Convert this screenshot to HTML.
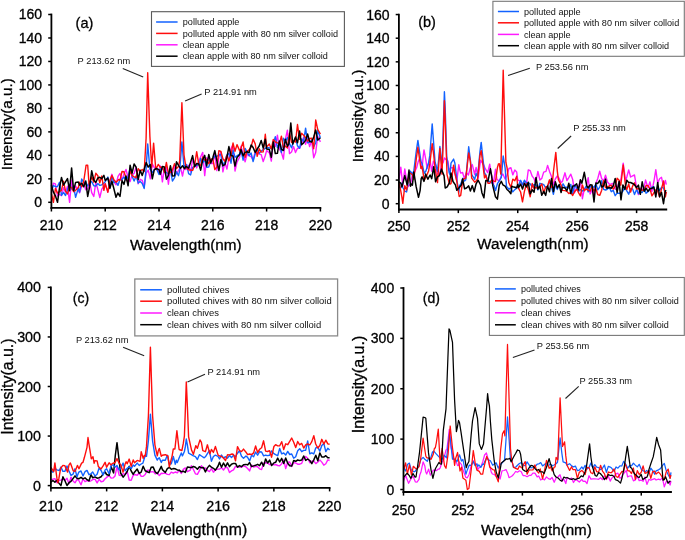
<!DOCTYPE html><html><head><meta charset="utf-8"><style>html,body{margin:0;padding:0;background:#fff;width:685px;height:540px;overflow:hidden}svg{display:block;filter:blur(0.35px)}text{font-family:"Liberation Sans",sans-serif}</style></head><body><svg width="685" height="540" viewBox="0 0 685 540" font-family="Liberation Sans, sans-serif">
<rect width="685" height="540" fill="#fff"/>
<g>
<polyline points="51.4,192.9 53.4,183.2 55.4,183.9 57.5,196.0 59.5,194.3 61.5,195.7 63.5,187.8 65.5,192.1 67.5,186.2 69.6,202.3 71.6,180.1 73.6,191.7 75.6,186.0 78.3,190.7 79.6,192.8 81.7,186.3 83.7,183.1 85.7,189.7 87.7,188.8 89.7,182.2 91.7,192.6 93.8,196.5 95.8,182.4 97.8,189.3 99.8,197.5 101.8,189.1 103.9,186.1 105.2,183.6 107.9,192.2 109.9,180.9 111.9,174.3 113.9,181.7 116.0,184.8 118.0,176.3 120.0,173.4 122.0,180.1 124.0,173.6 126.0,169.5 128.1,177.8 130.1,181.6 132.1,174.9 134.1,173.4 136.1,167.2 138.2,183.8 140.2,179.3 142.2,180.3 144.2,186.5 146.2,173.2 148.2,170.2 150.3,178.9 152.3,163.8 154.3,167.6 156.3,168.8 159.0,172.5 160.3,166.0 162.4,181.9 164.4,167.9 166.4,167.7 168.4,184.2 170.4,169.0 172.4,173.0 174.5,165.4 176.5,173.8 178.5,170.5 180.5,167.7 182.5,176.0 184.6,165.4 185.9,169.5 188.6,165.3 190.6,171.9 192.6,160.0 194.6,162.9 196.7,167.9 198.7,161.6 200.7,156.7 202.7,152.4 204.7,175.6 206.7,157.8 208.8,160.2 210.8,163.6 212.8,163.5 214.8,153.2 216.8,170.6 218.9,157.3 220.9,151.8 222.9,171.9 224.9,162.4 226.9,169.1 228.9,157.9 231.0,148.6 233.0,144.6 235.0,171.0 237.0,162.2 239.7,157.0 241.0,146.3 243.1,154.0 245.1,161.8 247.1,154.0 249.1,155.8 251.1,156.6 253.1,159.9 255.2,151.6 257.2,151.7 259.2,154.1 261.2,154.6 263.2,161.6 265.3,155.5 266.6,150.6 269.3,152.7 271.3,161.1 273.3,141.3 275.3,146.6 277.4,135.1 279.4,149.2 281.4,152.5 283.4,159.1 285.4,139.2 287.4,130.1 289.5,153.6 291.5,152.0 293.5,146.5 295.5,152.5 297.5,148.2 299.6,148.3 301.6,144.0 303.6,137.2 305.6,144.3 307.6,137.6 309.6,146.6 311.7,140.9 313.7,157.8 315.7,152.5 317.7,136.2 320.4,141.9" fill="none" stroke="#ff1aff" stroke-width="1.4" stroke-linejoin="round"/>
<polyline points="51.4,190.6 53.4,185.5 55.4,186.7 57.5,186.6 59.5,182.3 61.5,195.3 63.5,192.4 65.5,195.5 67.5,189.7 69.6,184.3 71.6,188.9 73.6,186.3 75.6,197.4 78.3,188.1 79.6,192.1 81.7,179.0 83.7,182.6 85.7,181.8 87.7,186.0 89.7,182.3 91.7,181.6 93.8,185.8 95.8,186.0 97.8,183.6 99.8,185.4 101.8,184.8 103.9,182.9 105.2,181.7 107.9,177.1 109.9,187.8 111.9,176.1 113.9,182.6 116.0,181.9 118.0,185.3 120.0,179.3 122.0,179.4 124.0,177.0 126.0,180.0 128.1,176.7 130.1,168.3 132.1,176.2 134.1,181.1 136.1,175.9 138.2,183.0 140.2,181.5 142.2,183.4 144.2,188.5 146.1,168.4 147.7,143.9 149.9,169.0 152.3,172.5 154.3,169.7 156.3,168.2 159.0,174.5 160.3,169.1 162.4,168.3 164.4,171.9 166.4,172.5 168.4,173.9 170.4,169.5 172.4,181.0 174.5,177.9 176.5,171.8 178.5,175.7 179.7,170.5 181.9,141.9 184.0,166.8 186.6,164.5 188.6,173.6 190.6,174.9 192.6,167.3 194.6,166.3 196.7,165.4 199.3,164.3 200.7,158.5 202.7,162.5 204.7,160.0 206.7,167.3 208.8,167.0 210.8,159.6 212.8,159.6 214.8,156.2 216.8,156.4 218.9,155.0 220.9,154.5 222.9,166.1 224.9,160.9 226.9,154.8 228.9,153.7 231.0,163.2 233.0,150.1 235.0,157.3 237.0,155.9 239.7,154.0 241.0,150.4 243.1,160.2 245.1,148.4 247.1,152.2 249.1,155.7 251.1,153.0 253.1,161.5 255.2,153.8 257.2,149.5 259.2,153.3 261.2,151.0 263.2,149.7 265.3,148.4 266.6,147.6 269.3,147.8 271.3,148.5 273.3,144.3 275.3,136.7 277.4,147.6 279.4,143.1 281.4,152.5 283.4,138.3 285.4,141.1 287.4,137.5 289.5,143.6 291.5,147.8 293.5,141.8 295.5,138.5 297.5,145.8 299.6,148.3 301.6,138.9 303.6,141.5 305.6,128.1 307.6,142.9 309.6,142.1 311.7,139.8 313.7,146.7 315.7,142.7 317.7,130.5 320.4,137.8" fill="none" stroke="#1262ff" stroke-width="1.4" stroke-linejoin="round"/>
<polyline points="51.4,193.6 53.4,202.3 55.4,188.5 57.5,193.1 59.5,191.7 61.5,190.1 63.5,181.2 65.5,191.2 67.5,193.9 69.6,187.0 71.6,187.4 73.6,191.5 75.6,190.3 78.3,187.6 79.6,182.3 81.7,186.7 83.7,181.5 86.1,165.2 87.7,165.2 89.1,184.9 91.7,176.8 93.8,182.2 95.8,173.3 97.8,175.7 99.8,182.8 101.8,176.0 103.9,190.3 105.2,183.6 107.9,192.2 109.9,180.6 111.9,175.5 113.9,179.6 116.0,182.2 118.7,179.5 120.0,180.4 122.0,171.5 124.0,171.7 126.0,177.8 128.1,182.9 130.1,170.9 132.1,175.4 134.1,176.9 136.1,177.7 138.2,168.6 140.2,171.2 142.2,169.5 144.2,171.5 146.1,138.3 147.7,72.7 149.9,136.5 151.7,167.1 153.6,143.1 155.8,169.5 158.3,164.4 160.3,167.4 162.4,167.0 164.4,172.6 166.4,162.5 168.4,173.3 170.4,172.3 172.4,170.0 174.5,163.6 176.5,168.5 178.5,166.4 179.7,160.6 181.9,102.7 184.0,154.8 185.9,167.1 188.6,169.7 190.6,170.0 192.6,170.4 194.6,165.2 196.7,151.7 198.7,163.8 200.7,165.8 202.7,157.0 204.7,160.2 206.7,159.5 208.8,163.8 210.8,159.3 212.8,158.5 214.8,169.5 216.8,167.1 218.9,150.7 220.9,151.5 222.9,158.8 224.9,161.2 226.9,155.6 228.9,160.9 231.0,155.3 233.0,143.0 235.0,151.3 237.0,144.6 239.7,150.9 241.0,148.3 243.1,141.9 245.1,157.6 247.1,151.4 249.1,149.9 251.1,147.0 253.1,139.2 255.2,143.9 257.2,156.4 259.2,148.8 261.2,152.1 263.2,151.9 265.3,134.3 266.6,146.9 269.3,144.0 271.3,149.1 273.3,139.4 275.3,142.0 277.4,142.9 279.4,143.6 281.4,136.1 283.4,147.8 285.4,146.1 287.4,148.0 289.5,133.1 291.5,142.3 293.5,141.0 295.5,142.1 297.5,124.5 299.6,139.4 301.6,133.3 303.6,135.2 305.6,137.5 307.6,141.1 309.6,138.5 311.7,138.2 313.7,148.7 315.7,120.0 317.7,129.4 320.4,134.1" fill="none" stroke="#ff0d0d" stroke-width="1.4" stroke-linejoin="round"/>
<polyline points="51.4,185.2 53.4,192.1 55.4,195.8 57.5,202.3 59.5,187.8 61.5,177.4 63.5,185.1 65.5,181.9 67.5,178.6 69.6,190.8 71.6,167.9 73.6,190.6 75.6,182.4 78.3,182.0 79.6,185.1 81.7,183.2 83.7,186.8 85.7,180.9 87.7,196.4 89.7,186.4 91.7,170.8 93.8,180.0 95.8,182.4 97.8,178.0 99.8,177.3 101.8,178.6 103.9,175.4 105.2,180.4 107.9,178.0 109.9,188.4 111.9,181.2 113.9,188.7 116.0,197.3 117.8,193.0 120.0,196.4 122.0,180.5 124.0,184.4 126.0,175.9 128.1,185.8 130.1,165.3 132.1,173.2 134.1,164.0 136.1,167.1 138.2,179.5 140.2,170.2 142.2,175.6 144.2,169.3 146.2,162.5 148.2,167.1 150.3,164.5 152.3,178.8 154.3,169.7 156.3,168.5 159.0,169.6 160.3,174.4 162.4,166.4 164.4,166.9 166.4,179.2 168.4,175.7 170.4,165.7 172.4,175.9 174.5,175.8 176.5,161.8 178.5,165.4 180.5,168.4 182.5,165.8 184.6,168.8 185.9,166.4 188.6,168.2 190.6,162.2 192.6,155.6 194.6,166.7 196.7,163.5 198.7,164.0 200.7,170.2 202.7,159.9 204.7,155.4 206.7,165.9 208.8,154.5 210.8,163.1 212.8,157.8 214.8,150.6 216.8,160.5 218.9,170.5 220.9,159.4 222.9,165.7 224.9,164.7 226.9,157.4 228.9,146.6 231.0,155.5 233.0,155.9 235.0,166.0 237.0,157.5 239.7,154.4 241.0,149.4 243.1,155.8 245.1,152.3 247.1,151.8 249.1,152.6 251.1,144.9 253.1,147.5 255.2,152.4 257.2,149.0 259.2,146.0 261.2,140.4 263.2,148.1 265.3,139.2 266.6,148.9 269.3,149.4 271.3,157.2 273.3,141.9 275.3,153.6 277.4,153.3 279.4,140.9 281.4,149.4 283.4,150.5 285.4,139.2 287.4,146.2 288.9,143.9 290.8,122.9 292.7,144.1 295.5,137.0 297.5,142.8 299.6,131.1 301.6,144.7 303.6,142.9 305.6,140.4 307.6,133.9 309.6,141.6 311.7,142.0 313.7,136.9 315.7,129.9 317.7,140.1 320.4,137.8" fill="none" stroke="#000000" stroke-width="1.5" stroke-linejoin="round"/>
<polyline points="398.9,179.7 400.8,167.2 402.8,185.5 404.8,169.0 406.6,180.1 407.8,186.7 410.5,184.1 412.3,175.2 414.3,172.8 416.7,167.4 418.2,161.6 420.1,157.6 422.1,169.1 423.0,157.9 424.0,149.9 425.9,160.2 427.1,168.5 429.8,159.2 431.7,171.2 433.4,161.1 435.6,164.6 437.5,173.9 439.5,175.1 441.4,165.4 443.3,162.1 444.4,157.9 445.2,158.9 447.9,160.8 449.1,169.7 450.9,167.8 453.0,167.7 455.4,175.0 456.8,180.6 458.8,164.8 459.8,170.1 460.7,173.1 462.6,172.5 464.3,178.4 466.5,172.6 468.4,175.0 470.2,168.1 472.3,164.6 474.7,174.5 476.1,167.4 478.1,178.2 479.1,170.9 480.6,160.1 481.9,162.3 483.9,165.2 485.1,168.4 487.7,172.6 489.7,164.1 491.0,172.8 493.5,183.6 495.5,169.2 496.9,179.4 499.3,181.0 501.3,176.2 502.9,174.0 505.1,179.0 507.0,175.2 509.0,168.3 510.9,167.7 512.8,174.9 514.8,170.1 516.7,172.0 517.7,180.1 518.6,180.3 520.6,181.3 522.5,184.9 523.7,182.9 526.4,184.3 528.3,169.9 530.2,170.7 532.2,176.2 534.1,178.7 535.6,183.1 537.9,171.4 539.9,180.0 541.8,178.4 543.7,172.1 546.0,171.4 547.6,165.4 549.5,171.4 551.5,176.6 553.4,184.9 555.3,179.0 557.3,175.9 559.2,178.5 561.1,182.5 562.3,181.7 565.0,172.8 566.9,180.5 568.3,178.5 570.8,174.2 572.7,179.6 574.6,192.8 577.2,186.1 578.5,187.8 580.4,179.8 582.4,198.7 584.3,189.0 586.2,187.6 588.2,177.6 590.1,194.0 592.0,190.0 594.0,195.0 595.9,183.1 597.8,178.4 599.7,171.3 601.7,178.8 603.9,180.8 605.5,175.2 607.5,182.0 609.4,184.3 611.3,183.9 612.8,183.5 615.2,189.2 617.1,188.9 619.1,181.5 620.8,180.1 623.2,163.1 625.6,180.9 626.8,177.0 628.7,169.9 630.6,177.0 632.6,175.9 634.5,175.0 636.6,187.9 638.4,194.6 640.3,188.1 642.2,190.0 644.2,187.4 645.5,180.0 648.0,187.7 650.0,181.8 651.9,191.6 654.4,178.6 655.8,169.7 657.7,183.2 659.6,178.7 661.5,177.3 663.5,186.3 665.4,180.5 666.3,184.6" fill="none" stroke="#ff1aff" stroke-width="1.4" stroke-linejoin="round"/>
<polyline points="398.9,186.7 400.8,187.9 401.9,183.1 402.8,187.5 404.8,191.1 406.6,191.9 409.3,177.2 410.5,171.3 412.4,174.0 413.8,171.0 416.3,151.0 417.9,140.4 420.9,161.2 422.1,163.5 424.2,173.3 425.9,171.0 428.6,162.8 429.8,155.4 432.2,123.9 433.7,144.1 435.1,162.2 437.5,171.3 439.9,146.5 442.0,168.3 443.3,127.3 444.4,91.8 445.2,108.6 446.7,156.3 449.1,172.5 450.0,174.7 451.0,163.1 453.6,159.1 454.9,163.3 456.8,179.3 458.8,192.1 459.8,185.2 460.7,184.2 462.8,178.3 464.6,181.0 465.8,179.8 468.7,146.8 470.4,160.4 471.7,174.5 474.7,179.4 476.1,173.5 477.6,176.7 480.0,151.3 481.2,142.4 484.5,173.0 485.8,174.8 488.0,182.0 489.7,181.3 491.6,182.6 494.0,185.5 495.5,190.6 497.4,183.7 499.9,179.8 501.3,177.4 503.2,156.0 505.1,167.8 506.5,186.5 509.0,189.3 510.9,187.6 511.8,189.8 512.8,191.9 514.8,189.6 516.7,188.1 517.7,186.3 518.6,185.3 520.6,180.3 522.5,184.7 524.4,180.2 526.4,183.3 528.3,183.0 530.2,183.9 532.2,187.0 534.1,184.5 536.0,184.9 537.9,189.9 539.9,183.3 541.8,183.9 543.7,184.7 545.7,187.9 547.5,187.4 549.5,181.0 551.5,186.7 553.4,194.4 555.3,184.6 557.3,189.6 559.2,184.9 561.1,188.0 563.1,183.8 565.0,187.2 566.9,187.3 568.8,188.0 570.8,184.4 572.7,193.6 574.6,185.0 577.2,189.1 578.5,191.5 580.4,189.5 582.4,191.1 584.3,189.3 586.2,186.2 588.2,191.9 590.1,186.9 592.0,186.2 594.0,187.3 595.9,184.0 597.8,189.8 599.7,187.1 601.7,180.7 603.6,189.4 605.5,190.0 606.9,189.5 609.4,187.4 611.3,191.7 613.3,190.4 615.2,195.7 617.1,193.2 619.1,193.1 621.0,193.6 622.9,191.1 624.9,187.1 626.8,190.9 628.7,194.2 630.6,188.7 632.6,188.9 634.5,194.5 636.6,189.4 638.4,193.5 640.3,192.1 642.2,192.6 644.2,187.2 646.1,193.2 648.0,191.6 650.0,189.9 651.9,187.1 653.8,186.7 655.8,194.7 657.7,187.0 659.6,190.3 661.5,187.3 663.5,187.9 665.4,193.7 666.3,191.9" fill="none" stroke="#1262ff" stroke-width="1.4" stroke-linejoin="round"/>
<polyline points="398.9,182.1 400.8,191.1 401.9,197.2 402.8,203.4 404.8,185.7 406.6,190.0 409.3,173.6 410.5,173.2 412.4,174.8 413.8,179.5 416.3,158.7 417.9,147.3 420.9,168.4 422.1,166.3 424.2,180.4 425.9,177.2 428.6,171.0 429.8,163.7 432.2,143.6 433.7,154.8 435.1,168.4 437.5,182.6 439.9,148.5 442.0,174.1 443.3,138.5 444.4,100.8 445.2,119.9 447.0,174.6 449.1,182.6 450.0,184.2 451.0,183.7 453.6,165.1 454.9,173.4 456.8,181.3 459.2,196.5 460.7,195.4 462.8,179.7 464.6,178.6 465.8,178.1 468.7,152.9 470.4,161.7 471.7,178.2 474.7,182.2 476.1,180.9 477.6,178.9 480.0,155.1 481.2,150.6 484.5,177.9 485.8,175.2 488.0,183.2 489.7,183.4 491.6,180.1 494.0,181.1 495.5,181.5 496.4,175.2 497.4,167.6 498.4,163.9 499.3,163.7 500.8,174.1 503.2,70.2 505.9,162.4 507.0,167.3 508.8,182.5 510.9,187.3 512.8,179.1 514.8,180.7 516.7,176.2 517.7,186.1 518.6,188.4 520.6,192.0 522.5,201.9 524.4,191.4 526.4,184.0 528.3,189.6 530.2,196.7 532.2,183.5 534.1,188.4 536.0,187.5 537.9,187.8 539.9,186.5 541.8,184.0 543.7,193.1 545.7,186.9 547.5,186.3 549.5,179.8 551.5,187.4 552.5,181.4 553.4,172.0 555.8,152.4 557.3,171.1 558.4,179.6 561.1,185.1 562.3,190.4 565.0,190.6 566.9,191.4 568.8,193.5 570.8,192.7 572.7,195.5 574.6,191.4 577.2,189.3 578.5,192.7 580.4,195.9 582.4,185.0 584.3,190.8 586.2,189.0 588.2,190.0 590.1,191.2 592.0,186.4 594.0,191.0 595.9,188.7 597.8,194.7 599.7,195.4 601.7,190.2 603.6,180.6 605.5,187.6 606.9,187.1 609.4,185.8 611.3,185.3 613.3,189.1 615.2,186.3 617.1,178.3 619.1,180.3 620.8,185.2 623.2,165.0 625.6,186.3 626.8,189.5 628.7,184.0 630.6,192.0 632.6,186.1 634.5,182.8 636.6,189.0 638.4,188.6 640.3,189.2 642.2,190.3 644.2,190.2 646.1,185.4 648.0,185.6 650.0,188.9 651.9,195.9 653.8,193.0 655.8,189.8 657.7,191.0 659.6,196.9 661.5,188.8 663.5,180.9 665.4,196.9 666.3,191.8" fill="none" stroke="#ff0d0d" stroke-width="1.4" stroke-linejoin="round"/>
<polyline points="398.9,181.8 400.8,183.1 401.9,186.9 402.8,183.8 404.8,175.6 407.2,185.0 409.0,170.1 410.5,186.3 411.4,184.0 412.4,185.1 413.8,171.9 416.1,186.4 418.5,197.3 420.1,190.6 421.2,178.6 422.1,176.9 424.0,181.4 425.6,174.1 427.9,179.2 430.1,175.0 431.7,178.7 433.7,166.7 435.6,181.8 437.5,176.8 439.5,175.5 441.4,169.1 444.1,175.9 445.2,188.0 447.2,186.8 449.4,182.6 451.0,172.9 453.0,181.5 455.4,184.9 456.8,190.3 458.8,188.1 461.3,185.1 462.6,179.0 464.6,188.8 466.5,188.0 468.7,185.9 470.4,191.0 472.3,185.6 474.2,191.7 476.1,183.8 478.1,180.2 480.6,185.0 481.9,192.7 483.9,197.8 485.8,180.6 488.0,181.1 490.4,168.8 491.6,175.7 492.8,185.9 495.5,196.8 497.4,199.1 499.3,184.8 501.3,181.4 502.9,184.8 505.1,186.2 507.0,189.5 509.0,191.2 510.9,193.7 511.8,186.2 512.8,186.7 514.8,187.2 516.7,187.8 517.7,184.5 518.6,187.6 520.6,184.1 522.5,189.1 524.4,183.3 526.4,186.9 528.3,182.3 530.2,193.8 532.2,189.8 534.1,192.2 536.0,177.4 537.9,189.1 539.9,186.3 541.8,195.3 543.7,191.3 545.7,195.4 547.5,186.1 549.5,191.8 551.5,178.6 553.4,191.6 555.3,181.8 557.3,188.0 559.2,184.7 561.1,192.5 562.3,187.3 565.0,187.9 566.9,190.8 568.8,183.2 570.8,193.6 572.7,186.1 574.6,185.8 576.6,183.8 578.5,189.9 580.4,179.8 581.9,183.2 584.3,172.3 586.7,185.6 588.2,188.0 590.1,184.8 592.0,184.9 594.0,201.9 595.9,183.1 597.8,183.4 599.7,180.4 601.7,187.0 603.6,186.0 605.5,179.1 606.9,188.3 609.4,187.5 611.3,188.3 613.3,185.8 615.2,178.5 617.1,192.5 619.1,181.4 621.0,199.8 622.9,184.9 624.9,189.4 626.8,180.2 628.7,182.6 630.6,182.5 632.6,183.5 634.5,184.7 636.6,187.6 638.4,185.1 640.3,194.3 642.2,181.8 644.2,191.4 646.1,188.2 648.0,191.3 650.0,188.6 651.9,188.4 653.8,187.1 655.8,196.9 657.7,182.4 659.6,196.8 661.5,192.4 663.5,203.7 665.4,190.7 666.3,191.2" fill="none" stroke="#000000" stroke-width="1.5" stroke-linejoin="round"/>
<polyline points="50.9,479.8 52.9,479.2 54.9,478.6 56.9,482.8 59.3,480.4 60.9,480.1 62.9,479.0 64.9,480.4 67.0,478.3 69.0,483.7 71.0,477.1 73.2,481.2 75.0,482.8 77.0,479.3 78.8,480.5 81.0,484.8 83.0,478.9 85.0,481.7 87.0,480.7 89.0,481.4 91.0,480.8 92.7,479.6 95.0,479.1 97.1,482.9 99.1,479.4 101.1,481.8 103.1,481.3 105.1,478.8 106.6,477.4 109.1,475.5 111.1,478.1 113.1,477.9 115.0,476.0 117.0,466.7 119.2,475.3 121.1,475.5 123.1,473.7 125.1,474.5 127.2,471.4 129.2,480.0 131.2,480.2 133.2,475.3 134.5,474.5 137.2,475.2 139.2,472.8 141.2,476.4 143.2,476.2 145.2,474.5 147.2,470.2 149.2,470.2 150.4,472.0 153.2,471.6 155.2,473.9 157.3,472.5 159.3,475.6 161.3,473.2 162.4,473.5 165.3,473.1 167.3,474.4 169.3,474.6 171.3,472.1 173.3,473.1 175.3,472.0 177.3,472.9 179.3,470.2 181.3,473.5 183.3,469.4 185.3,467.9 187.4,471.7 190.3,470.1 191.4,465.6 193.4,469.5 195.4,473.8 197.4,474.4 199.4,470.7 201.4,465.7 203.4,468.6 205.4,468.0 207.4,470.4 209.4,471.6 211.4,468.7 213.4,472.2 215.4,469.9 218.1,469.1 219.5,469.1 221.5,467.7 223.5,470.0 225.5,467.2 227.5,467.6 229.5,472.5 231.5,470.9 233.5,469.9 235.5,466.4 237.5,467.1 239.5,467.0 241.5,467.2 243.5,465.9 246.0,466.9 247.6,468.5 249.6,470.9 251.6,465.1 253.6,467.1 255.6,466.3 257.6,466.7 259.6,468.8 261.6,469.6 263.6,463.3 265.6,462.8 267.6,463.0 269.6,464.6 271.6,464.3 273.9,464.9 275.6,464.5 277.7,465.5 279.7,465.7 281.7,463.7 283.7,459.9 285.7,468.6 287.7,462.3 289.7,462.0 291.7,466.5 293.7,462.6 295.7,463.0 297.7,464.2 299.7,464.2 301.7,463.3 303.7,458.4 305.7,456.6 307.7,458.3 309.8,462.8 311.8,461.2 313.8,460.8 315.8,463.6 317.8,462.0 319.8,459.9 321.8,462.1 323.8,465.2 325.8,463.8 327.8,459.9 329.6,460.5" fill="none" stroke="#ff1aff" stroke-width="1.4" stroke-linejoin="round"/>
<polyline points="50.9,482.3 52.9,480.5 54.9,482.1 56.9,480.2 58.9,483.1 60.9,485.6 62.9,476.8 64.8,480.5 67.0,485.5 69.0,482.7 71.0,481.3 73.0,478.6 75.0,475.9 77.0,478.2 78.8,478.8 81.0,477.3 83.0,478.9 85.0,477.8 87.0,479.7 89.0,480.9 91.0,474.6 92.7,477.8 95.0,476.9 97.1,478.2 99.1,477.7 101.1,476.8 103.1,473.8 105.1,472.0 106.6,474.5 109.1,475.5 111.1,466.8 113.6,472.9 115.3,455.5 117.0,442.7 118.6,456.0 120.6,473.0 123.1,477.2 125.1,474.6 127.2,471.5 129.2,466.3 131.2,471.0 133.2,474.4 134.5,472.2 137.2,469.1 139.2,473.4 141.2,472.1 143.2,466.2 145.2,470.8 147.2,471.7 149.2,472.6 151.2,467.3 153.2,467.1 155.2,471.9 157.3,473.6 159.3,470.3 161.3,466.4 162.4,469.6 165.3,472.5 167.3,468.6 169.3,467.3 171.3,469.2 173.3,468.6 175.3,468.8 177.3,469.9 179.3,470.2 181.3,471.8 183.3,471.2 185.3,472.4 187.4,466.9 190.3,467.6 191.4,467.6 193.4,466.5 195.4,467.3 197.4,469.2 199.4,466.7 201.4,467.8 203.4,467.4 205.4,471.9 207.4,467.9 209.4,465.4 211.4,467.2 213.4,468.3 215.4,470.1 218.1,466.0 219.5,462.3 221.5,467.3 223.5,463.0 225.5,466.7 227.5,462.8 229.5,466.6 231.5,464.2 233.5,463.4 235.5,463.4 237.5,467.2 239.5,465.6 241.5,466.7 243.5,464.8 246.0,464.4 247.6,464.9 249.6,462.6 251.6,466.6 253.6,465.9 255.6,465.3 257.6,464.3 259.6,465.6 261.6,462.2 263.6,466.1 265.6,458.9 267.6,463.0 269.6,460.1 271.6,465.6 273.9,462.9 275.6,462.3 277.7,458.1 279.7,462.0 281.7,458.4 283.7,463.6 285.7,458.0 287.7,463.2 289.7,465.7 291.7,466.0 293.7,460.5 295.7,461.3 297.7,460.0 299.7,460.6 301.7,460.1 303.7,456.0 305.7,460.4 307.7,459.0 309.8,460.5 311.8,463.6 313.8,459.9 315.8,455.3 317.8,460.8 319.8,452.9 321.8,457.0 323.8,457.1 325.8,455.7 327.8,457.8 329.6,457.8" fill="none" stroke="#000000" stroke-width="1.5" stroke-linejoin="round"/>
<polyline points="50.9,470.5 52.9,472.3 54.9,468.4 56.9,469.9 59.3,470.5 60.9,467.1 62.9,471.4 64.8,471.4 67.0,465.9 69.0,471.0 71.0,475.4 73.0,474.2 75.0,468.8 77.0,476.8 78.8,472.1 81.0,471.0 83.0,475.9 85.0,471.7 87.0,470.4 89.0,474.7 91.0,473.8 92.7,472.0 95.0,476.0 97.1,474.3 99.1,468.0 101.1,470.5 103.1,474.9 105.1,470.0 106.6,468.8 109.1,473.7 111.1,465.4 113.1,464.8 115.1,467.1 117.0,465.5 119.1,470.0 120.6,468.5 123.1,463.1 125.1,470.9 127.2,468.3 129.2,466.7 131.2,468.6 133.2,465.0 134.5,466.3 137.2,463.1 139.2,465.4 141.2,464.0 142.9,463.1 145.2,455.5 146.5,456.3 148.4,440.6 150.4,414.3 152.6,441.1 154.9,455.1 157.3,460.1 158.2,458.6 159.3,457.7 161.3,462.4 162.4,460.2 165.3,460.2 167.3,455.3 169.3,464.2 171.3,463.9 173.3,456.5 175.3,464.2 176.3,460.3 177.3,462.6 179.3,457.5 181.3,453.0 182.4,455.9 184.4,451.5 185.3,446.9 186.3,439.0 187.4,445.1 188.6,453.1 191.4,454.7 193.0,455.7 195.4,456.7 197.4,459.5 199.4,454.7 201.4,456.0 204.2,457.8 205.4,456.8 207.4,453.7 209.4,450.6 211.4,461.2 213.4,456.5 215.4,455.1 218.1,456.5 219.5,459.0 221.5,455.1 223.5,458.0 225.5,456.7 227.5,458.2 229.5,455.5 231.5,457.6 233.5,455.3 235.5,456.5 237.5,453.2 239.5,450.7 241.5,456.3 243.5,458.3 246.0,456.0 247.6,457.4 249.6,460.9 251.6,455.3 253.6,456.8 255.6,452.1 257.6,455.2 259.6,451.7 261.6,452.0 263.6,455.9 265.6,455.2 267.6,455.6 269.6,455.2 271.6,450.9 273.9,453.6 275.6,454.6 277.7,455.7 279.7,448.4 281.7,453.9 283.7,453.0 285.7,455.1 287.7,451.4 289.7,454.5 291.7,454.0 293.7,458.2 295.7,456.8 297.7,450.7 299.7,448.7 301.7,451.7 303.7,450.4 305.7,450.2 307.7,441.0 309.8,453.9 311.8,452.8 313.8,453.9 315.8,447.8 317.8,447.1 319.8,451.2 321.8,445.4 323.8,443.4 325.8,451.6 327.8,448.3 329.6,450.0" fill="none" stroke="#1262ff" stroke-width="1.4" stroke-linejoin="round"/>
<polyline points="50.9,467.3 53.7,471.6 54.9,462.9 56.9,478.2 57.9,482.7 58.9,478.4 60.7,468.2 62.9,465.4 64.8,465.6 67.6,472.1 69.0,464.9 70.4,463.0 73.2,470.8 75.0,471.4 77.4,465.4 79.0,468.7 81.6,463.1 83.0,462.3 84.3,457.8 87.0,447.3 88.0,437.5 89.0,444.3 91.3,458.7 93.0,456.8 94.1,463.2 95.0,460.6 97.1,460.9 98.3,466.4 101.1,468.9 103.1,465.9 105.1,462.3 106.6,467.2 109.1,462.8 111.1,464.9 112.2,463.6 115.1,462.5 117.0,458.6 119.1,463.2 120.6,464.5 123.1,472.2 125.1,464.1 126.1,461.7 127.2,463.8 129.2,459.1 131.2,466.3 133.2,459.9 134.5,462.8 137.2,460.4 140.1,461.3 141.2,451.8 143.2,458.3 144.3,455.5 145.2,456.1 146.5,446.4 148.4,416.0 150.4,347.3 152.6,416.0 154.9,444.8 157.3,455.9 158.2,451.1 159.3,448.5 161.3,456.2 162.4,455.3 165.3,454.7 168.0,456.0 169.3,466.8 172.1,456.1 173.3,448.9 174.9,449.0 176.9,430.8 179.1,449.5 181.9,450.5 183.3,443.4 184.4,436.2 185.3,411.4 186.3,382.0 187.4,406.7 188.6,436.8 191.6,450.3 193.4,454.3 195.8,445.6 197.4,448.3 200.0,439.9 201.4,442.3 202.8,450.7 205.4,451.7 207.4,444.8 209.8,453.9 211.4,449.5 213.4,452.4 215.4,446.5 218.1,455.1 219.5,456.0 221.5,456.5 223.5,458.0 225.5,460.6 227.5,454.8 229.5,454.9 232.1,454.0 233.5,454.4 235.5,460.8 237.5,446.6 239.5,450.5 241.5,451.6 243.5,449.1 246.0,452.2 247.6,454.7 249.6,454.0 251.6,454.6 253.6,452.9 255.6,446.0 257.6,452.5 259.9,449.0 261.6,447.8 263.6,440.8 265.6,451.1 267.6,451.5 269.6,450.7 271.6,457.2 273.9,446.5 275.6,444.7 277.7,445.9 279.7,445.8 281.7,441.7 283.7,449.6 285.7,443.8 287.8,444.7 289.7,441.3 291.7,438.0 293.7,442.2 295.7,447.6 297.7,441.5 299.7,444.8 301.7,443.4 303.7,448.1 305.7,444.9 307.7,443.9 309.8,445.0 311.8,441.6 313.8,435.7 315.7,444.0 317.8,448.0 319.8,445.5 321.8,439.3 323.8,444.1 325.8,440.2 327.8,443.9 329.6,444.3" fill="none" stroke="#ff0d0d" stroke-width="1.4" stroke-linejoin="round"/>
<polyline points="403.5,481.4 405.6,475.3 407.4,480.2 408.6,483.3 411.5,477.9 413.2,476.5 415.4,481.9 417.0,482.1 419.0,479.3 419.8,474.9 420.9,472.3 423.1,461.8 424.8,465.9 425.8,472.1 426.7,474.0 428.6,469.2 430.3,475.1 433.2,470.2 434.4,470.1 436.3,470.7 438.3,469.0 439.2,469.0 440.2,467.8 442.1,462.0 443.6,459.6 446.0,450.1 446.9,449.4 447.9,441.4 449.3,429.3 451.1,447.8 454.0,459.3 455.7,460.4 457.6,465.6 458.5,465.5 459.5,462.0 461.5,464.7 462.9,469.8 465.9,477.4 467.3,477.8 469.2,474.2 471.1,466.1 473.3,460.7 475.0,464.5 476.9,464.0 477.8,469.7 478.8,468.1 480.8,466.8 482.7,462.0 484.6,455.0 486.4,453.0 488.2,459.5 491.2,471.9 492.4,474.0 494.2,474.4 496.2,476.5 498.6,476.5 500.1,479.0 502.0,470.8 504.0,470.5 506.0,469.6 507.8,473.4 509.0,477.7 511.7,476.3 513.5,474.5 515.6,471.5 517.5,472.2 519.4,470.8 521.3,471.8 522.4,474.3 523.3,475.7 525.2,475.7 527.1,476.7 529.1,475.4 531.0,475.3 532.9,473.2 534.9,473.1 537.2,476.9 538.7,476.0 540.7,480.0 542.6,478.8 544.5,479.9 546.5,476.9 548.4,478.6 550.3,479.3 552.1,477.4 554.2,482.3 556.1,477.9 558.1,476.7 560.0,474.8 561.9,481.0 563.9,479.3 565.8,483.5 567.0,477.9 569.6,479.0 571.6,478.0 573.5,482.5 575.4,479.4 577.4,480.4 579.3,482.0 581.8,479.4 583.2,481.4 585.1,481.2 587.0,483.5 589.0,475.7 590.9,479.1 592.8,478.8 594.8,478.8 596.7,479.0 598.6,479.3 600.6,477.7 602.5,479.7 604.4,475.8 606.4,479.5 608.3,476.0 610.2,481.1 611.6,478.4 614.1,476.2 616.0,473.9 617.9,473.2 619.9,478.3 621.8,476.9 623.4,473.8 626.4,470.5 627.6,476.9 629.4,476.0 631.5,475.8 633.4,480.9 635.3,479.9 637.3,475.9 639.2,480.7 641.3,480.2 643.1,481.3 645.0,477.0 646.9,484.4 648.9,479.4 650.8,480.1 652.7,479.3 654.7,478.6 656.1,480.0 658.5,479.2 660.4,479.8 662.4,477.6 664.3,486.8 666.2,481.7 668.2,481.3 670.1,485.0 671.0,481.0" fill="none" stroke="#ff1aff" stroke-width="1.25" stroke-linejoin="round"/>
<polyline points="403.5,465.7 405.4,471.0 406.5,469.0 407.4,464.6 409.4,463.1 411.2,469.7 413.9,471.8 415.1,471.4 417.0,468.4 418.4,467.2 420.9,459.6 423.1,457.4 424.8,459.2 427.3,461.3 428.6,458.2 430.5,458.6 432.5,452.0 433.8,451.1 436.2,453.9 438.3,456.1 440.2,458.1 442.1,459.6 444.1,455.2 446.6,457.8 447.9,447.4 449.6,432.2 452.5,459.1 453.7,458.9 455.7,459.9 457.0,461.6 459.5,454.8 461.5,461.0 462.9,459.5 465.9,474.2 467.3,469.9 469.2,465.2 471.1,465.4 473.3,461.6 475.0,465.6 476.9,463.9 477.8,466.5 478.8,464.9 480.8,467.4 482.7,464.1 483.7,464.3 484.6,461.9 486.7,457.9 488.5,459.8 490.4,460.8 492.7,465.3 494.3,464.1 496.2,462.8 498.2,468.1 500.1,464.5 501.6,463.5 504.6,459.5 505.9,441.2 507.5,416.8 510.5,459.6 511.7,459.6 513.5,467.5 515.6,467.2 517.5,465.2 519.4,463.5 521.3,462.6 522.4,464.0 523.3,465.3 525.2,465.6 527.1,461.9 529.1,464.8 531.0,467.8 532.9,467.5 534.9,466.9 537.2,464.1 538.7,464.0 540.7,462.6 542.6,465.9 544.5,464.4 546.5,463.2 548.4,465.9 550.3,463.9 552.1,465.6 554.2,465.0 556.1,463.7 557.5,462.3 560.1,437.9 561.9,453.6 563.1,461.8 565.8,462.9 567.0,465.1 569.6,463.7 571.6,465.9 573.5,466.9 575.4,466.1 577.4,470.7 579.3,470.2 581.8,466.9 583.2,469.1 585.1,465.3 587.0,469.0 589.0,467.6 590.9,463.0 592.8,467.7 594.8,464.7 596.7,467.2 598.6,467.5 600.6,469.7 602.5,468.2 604.4,465.0 606.4,472.3 608.3,466.4 610.2,467.1 611.6,468.1 614.1,471.4 616.0,466.9 617.9,468.2 619.9,465.8 621.8,466.0 623.7,461.3 626.4,465.4 627.6,468.4 629.5,465.6 631.5,465.9 633.4,463.2 635.3,465.1 637.3,466.9 639.2,464.3 641.3,469.3 643.1,470.8 645.0,471.8 646.9,470.5 648.9,473.4 650.8,468.1 652.7,470.6 654.7,474.3 656.1,470.8 658.5,469.8 660.4,468.6 662.4,465.7 664.3,463.4 666.2,470.6 668.2,474.7 670.1,478.2 671.0,472.3" fill="none" stroke="#1262ff" stroke-width="1.25" stroke-linejoin="round"/>
<polyline points="403.5,470.2 405.6,462.9 407.4,474.2 409.4,464.8 411.5,474.9 413.3,466.3 415.1,468.0 416.9,469.2 419.0,466.7 420.7,458.6 423.1,438.1 424.8,449.5 425.8,456.0 426.7,457.7 428.5,458.2 431.1,459.3 433.2,454.6 434.4,448.4 435.3,447.9 436.3,442.8 438.3,429.2 440.1,462.7 442.1,448.5 444.5,465.6 446.0,468.3 448.1,454.1 450.2,426.0 452.2,445.6 453.7,457.3 454.6,465.4 455.7,458.3 457.6,452.5 460.0,471.0 461.5,467.1 462.9,478.1 465.9,480.3 467.3,489.5 468.9,488.5 471.3,469.2 473.3,450.5 475.4,464.5 476.9,470.1 479.3,471.4 480.8,474.2 482.7,474.2 483.7,468.6 484.6,464.9 486.7,456.5 488.5,460.6 489.7,467.1 492.7,469.6 494.3,469.9 495.6,474.7 498.3,481.8 500.7,449.2 502.5,433.7 504.0,430.9 504.9,435.8 505.9,399.0 507.5,344.4 510.5,448.5 511.7,460.2 513.5,467.1 515.6,468.4 517.9,469.3 519.4,466.0 521.3,467.5 522.4,468.3 523.3,464.9 525.2,461.6 527.1,474.2 529.1,469.9 531.3,470.0 532.9,469.9 534.9,464.9 536.8,470.9 538.7,473.1 540.2,468.9 542.6,478.9 544.5,470.5 546.5,460.3 549.1,468.3 550.3,466.8 552.3,470.9 554.2,467.1 555.1,466.9 556.1,457.3 557.8,459.8 560.1,397.8 562.5,446.5 564.6,441.8 565.8,455.9 567.0,465.3 569.6,470.4 571.6,466.7 572.9,469.6 575.4,469.6 577.4,478.4 579.3,472.3 581.8,470.4 583.2,471.8 585.1,474.6 587.0,467.3 589.0,467.6 590.9,472.8 592.8,473.8 594.8,466.8 596.7,471.7 598.6,472.1 600.6,465.3 602.5,471.1 604.4,473.6 606.4,479.0 608.3,472.0 610.2,472.6 611.6,472.7 614.1,468.9 616.0,476.5 617.9,477.3 619.9,474.3 622.0,471.4 623.7,471.6 624.9,463.4 627.9,470.8 629.5,470.9 631.5,473.6 633.4,468.0 635.3,479.5 637.3,470.6 639.2,474.5 641.3,472.2 643.1,465.9 645.0,473.3 646.9,472.6 648.9,470.5 650.8,478.3 652.7,471.5 654.7,471.2 656.1,474.0 658.5,472.1 660.4,474.2 662.4,477.5 664.3,479.7 666.2,471.8 668.2,469.1 670.1,478.4 671.0,475.2" fill="none" stroke="#ff0d0d" stroke-width="1.25" stroke-linejoin="round"/>
<polyline points="403.8,477.1 405.4,475.1 406.5,473.8 407.4,473.4 409.3,475.7 410.9,478.3 413.0,473.5 415.1,477.1 416.0,476.8 417.0,470.5 419.5,452.6 420.9,439.0 423.1,417.1 424.8,417.5 425.8,418.3 426.7,429.7 428.5,452.9 431.1,470.3 432.9,478.4 434.4,471.8 435.6,468.2 438.9,462.5 440.2,463.9 441.5,464.2 443.3,430.4 446.0,408.8 447.9,357.9 449.0,328.9 449.9,330.4 452.5,342.4 453.7,375.9 454.6,400.3 456.4,431.6 457.6,426.0 458.5,420.4 459.5,422.6 460.9,431.4 463.5,449.1 465.3,461.3 466.2,467.7 467.3,464.5 468.9,461.5 471.1,435.5 472.5,421.0 475.1,407.6 477.5,418.5 479.3,443.9 481.4,449.4 483.5,444.1 484.6,430.7 486.6,407.5 487.6,393.6 488.5,401.1 489.4,405.9 490.4,421.5 491.8,439.6 494.2,460.7 496.2,472.1 498.3,477.8 500.1,469.9 501.3,462.9 504.6,460.6 505.9,458.8 507.8,459.2 509.8,458.3 511.1,461.8 514.1,456.0 515.6,453.5 517.5,449.9 518.5,450.5 519.4,450.6 520.6,454.3 522.7,469.5 525.2,471.1 526.8,471.5 529.1,467.9 531.0,465.3 532.9,465.8 535.5,469.1 536.8,470.3 538.7,469.5 539.9,471.6 542.6,471.9 544.1,473.6 546.5,467.2 549.1,458.7 550.3,463.2 553.0,470.3 554.2,474.7 556.0,477.0 558.1,478.0 560.1,480.2 561.9,481.2 563.9,477.1 565.8,478.0 567.0,477.5 569.6,478.8 571.6,479.4 573.5,478.7 575.3,479.6 577.4,478.6 579.3,478.2 581.2,475.9 583.0,476.8 585.1,471.7 586.6,465.6 589.6,443.8 590.9,457.0 592.2,465.7 595.2,475.5 596.7,476.2 598.6,472.6 600.3,473.5 602.5,476.1 604.4,479.6 605.3,478.2 606.4,478.3 608.3,474.6 610.4,475.5 612.1,475.2 614.1,476.5 615.4,479.7 617.9,480.6 620.5,483.1 621.8,478.8 624.3,466.8 625.7,456.8 627.3,446.4 630.3,467.4 631.5,468.0 634.1,473.3 635.3,474.5 638.0,477.1 639.2,477.5 641.1,474.2 642.8,479.6 645.0,477.9 646.9,477.2 647.8,475.1 648.9,469.6 650.8,463.7 653.2,456.9 654.7,449.2 656.7,437.3 658.5,444.5 660.6,449.9 663.0,480.2 664.3,479.5 665.6,476.7 668.0,483.2 670.4,480.7" fill="none" stroke="#000000" stroke-width="1.25" stroke-linejoin="round"/>
</g>
<line x1="51.40" y1="13.60" x2="51.40" y2="208.80" stroke="#000" stroke-width="1.8"/>
<line x1="48.20" y1="202.30" x2="51.40" y2="202.30" stroke="#000" stroke-width="1.5"/>
<text x="42.00" y="207.10" font-size="14" text-anchor="end" fill="#000" stroke="#000" stroke-width="0.3" >0</text>
<line x1="48.20" y1="178.83" x2="51.40" y2="178.83" stroke="#000" stroke-width="1.5"/>
<text x="42.00" y="183.63" font-size="14" text-anchor="end" fill="#000" stroke="#000" stroke-width="0.3" >20</text>
<line x1="48.20" y1="155.35" x2="51.40" y2="155.35" stroke="#000" stroke-width="1.5"/>
<text x="42.00" y="160.15" font-size="14" text-anchor="end" fill="#000" stroke="#000" stroke-width="0.3" >40</text>
<line x1="48.20" y1="131.88" x2="51.40" y2="131.88" stroke="#000" stroke-width="1.5"/>
<text x="42.00" y="136.68" font-size="14" text-anchor="end" fill="#000" stroke="#000" stroke-width="0.3" >60</text>
<line x1="48.20" y1="108.40" x2="51.40" y2="108.40" stroke="#000" stroke-width="1.5"/>
<text x="42.00" y="113.20" font-size="14" text-anchor="end" fill="#000" stroke="#000" stroke-width="0.3" >80</text>
<line x1="48.20" y1="84.93" x2="51.40" y2="84.93" stroke="#000" stroke-width="1.5"/>
<text x="42.00" y="89.73" font-size="14" text-anchor="end" fill="#000" stroke="#000" stroke-width="0.3" >100</text>
<line x1="48.20" y1="61.45" x2="51.40" y2="61.45" stroke="#000" stroke-width="1.5"/>
<text x="42.00" y="66.25" font-size="14" text-anchor="end" fill="#000" stroke="#000" stroke-width="0.3" >120</text>
<line x1="48.20" y1="37.98" x2="51.40" y2="37.98" stroke="#000" stroke-width="1.5"/>
<text x="42.00" y="42.78" font-size="14" text-anchor="end" fill="#000" stroke="#000" stroke-width="0.3" >140</text>
<line x1="48.20" y1="14.50" x2="51.40" y2="14.50" stroke="#000" stroke-width="1.5"/>
<text x="42.00" y="19.30" font-size="14" text-anchor="end" fill="#000" stroke="#000" stroke-width="0.3" >160</text>
<line x1="50.50" y1="207.90" x2="321.30" y2="207.90" stroke="#000" stroke-width="1.8"/>
<line x1="51.40" y1="207.90" x2="51.40" y2="211.50" stroke="#000" stroke-width="1.5"/>
<text x="51.40" y="229.90" font-size="14" text-anchor="middle" fill="#000" stroke="#000" stroke-width="0.3" >210</text>
<line x1="105.20" y1="207.90" x2="105.20" y2="211.50" stroke="#000" stroke-width="1.5"/>
<text x="105.20" y="229.90" font-size="14" text-anchor="middle" fill="#000" stroke="#000" stroke-width="0.3" >212</text>
<line x1="159.00" y1="207.90" x2="159.00" y2="211.50" stroke="#000" stroke-width="1.5"/>
<text x="159.00" y="229.90" font-size="14" text-anchor="middle" fill="#000" stroke="#000" stroke-width="0.3" >214</text>
<line x1="212.80" y1="207.90" x2="212.80" y2="211.50" stroke="#000" stroke-width="1.5"/>
<text x="212.80" y="229.90" font-size="14" text-anchor="middle" fill="#000" stroke="#000" stroke-width="0.3" >216</text>
<line x1="266.60" y1="207.90" x2="266.60" y2="211.50" stroke="#000" stroke-width="1.5"/>
<text x="266.60" y="229.90" font-size="14" text-anchor="middle" fill="#000" stroke="#000" stroke-width="0.3" >218</text>
<line x1="320.40" y1="207.90" x2="320.40" y2="211.50" stroke="#000" stroke-width="1.5"/>
<text x="320.40" y="229.90" font-size="14" text-anchor="middle" fill="#000" stroke="#000" stroke-width="0.3" >220</text>
<line x1="398.90" y1="13.65" x2="398.90" y2="210.40" stroke="#000" stroke-width="1.8"/>
<line x1="395.70" y1="203.70" x2="398.90" y2="203.70" stroke="#000" stroke-width="1.5"/>
<text x="389.60" y="208.70" font-size="14" text-anchor="end" fill="#000" stroke="#000" stroke-width="0.3" >0</text>
<line x1="395.70" y1="180.06" x2="398.90" y2="180.06" stroke="#000" stroke-width="1.5"/>
<text x="389.60" y="185.06" font-size="14" text-anchor="end" fill="#000" stroke="#000" stroke-width="0.3" >20</text>
<line x1="395.70" y1="156.41" x2="398.90" y2="156.41" stroke="#000" stroke-width="1.5"/>
<text x="389.60" y="161.41" font-size="14" text-anchor="end" fill="#000" stroke="#000" stroke-width="0.3" >40</text>
<line x1="395.70" y1="132.77" x2="398.90" y2="132.77" stroke="#000" stroke-width="1.5"/>
<text x="389.60" y="137.77" font-size="14" text-anchor="end" fill="#000" stroke="#000" stroke-width="0.3" >60</text>
<line x1="395.70" y1="109.12" x2="398.90" y2="109.12" stroke="#000" stroke-width="1.5"/>
<text x="389.60" y="114.12" font-size="14" text-anchor="end" fill="#000" stroke="#000" stroke-width="0.3" >80</text>
<line x1="395.70" y1="85.48" x2="398.90" y2="85.48" stroke="#000" stroke-width="1.5"/>
<text x="389.60" y="90.48" font-size="14" text-anchor="end" fill="#000" stroke="#000" stroke-width="0.3" >100</text>
<line x1="395.70" y1="61.84" x2="398.90" y2="61.84" stroke="#000" stroke-width="1.5"/>
<text x="389.60" y="66.84" font-size="14" text-anchor="end" fill="#000" stroke="#000" stroke-width="0.3" >120</text>
<line x1="395.70" y1="38.19" x2="398.90" y2="38.19" stroke="#000" stroke-width="1.5"/>
<text x="389.60" y="43.19" font-size="14" text-anchor="end" fill="#000" stroke="#000" stroke-width="0.3" >140</text>
<line x1="395.70" y1="14.55" x2="398.90" y2="14.55" stroke="#000" stroke-width="1.5"/>
<text x="389.60" y="19.55" font-size="14" text-anchor="end" fill="#000" stroke="#000" stroke-width="0.3" >160</text>
<line x1="398.00" y1="209.50" x2="667.20" y2="209.50" stroke="#000" stroke-width="1.8"/>
<line x1="398.90" y1="209.50" x2="398.90" y2="213.10" stroke="#000" stroke-width="1.5"/>
<text x="398.90" y="231.10" font-size="14" text-anchor="middle" fill="#000" stroke="#000" stroke-width="0.3" >250</text>
<line x1="458.32" y1="209.50" x2="458.32" y2="213.10" stroke="#000" stroke-width="1.5"/>
<text x="458.32" y="231.10" font-size="14" text-anchor="middle" fill="#000" stroke="#000" stroke-width="0.3" >252</text>
<line x1="517.74" y1="209.50" x2="517.74" y2="213.10" stroke="#000" stroke-width="1.5"/>
<text x="517.74" y="231.10" font-size="14" text-anchor="middle" fill="#000" stroke="#000" stroke-width="0.3" >254</text>
<line x1="577.17" y1="209.50" x2="577.17" y2="213.10" stroke="#000" stroke-width="1.5"/>
<text x="577.17" y="231.10" font-size="14" text-anchor="middle" fill="#000" stroke="#000" stroke-width="0.3" >256</text>
<line x1="636.59" y1="209.50" x2="636.59" y2="213.10" stroke="#000" stroke-width="1.5"/>
<text x="636.59" y="231.10" font-size="14" text-anchor="middle" fill="#000" stroke="#000" stroke-width="0.3" >258</text>
<line x1="50.90" y1="286.50" x2="50.90" y2="488.70" stroke="#000" stroke-width="1.8"/>
<line x1="47.70" y1="485.60" x2="50.90" y2="485.60" stroke="#000" stroke-width="1.5"/>
<text x="41.00" y="490.60" font-size="14.3" text-anchor="end" fill="#000" stroke="#000" stroke-width="0.3" >0</text>
<line x1="47.70" y1="436.05" x2="50.90" y2="436.05" stroke="#000" stroke-width="1.5"/>
<text x="41.00" y="441.05" font-size="14.3" text-anchor="end" fill="#000" stroke="#000" stroke-width="0.3" >100</text>
<line x1="47.70" y1="386.50" x2="50.90" y2="386.50" stroke="#000" stroke-width="1.5"/>
<text x="41.00" y="391.50" font-size="14.3" text-anchor="end" fill="#000" stroke="#000" stroke-width="0.3" >200</text>
<line x1="47.70" y1="336.95" x2="50.90" y2="336.95" stroke="#000" stroke-width="1.5"/>
<text x="41.00" y="341.95" font-size="14.3" text-anchor="end" fill="#000" stroke="#000" stroke-width="0.3" >300</text>
<line x1="47.70" y1="287.40" x2="50.90" y2="287.40" stroke="#000" stroke-width="1.5"/>
<text x="41.00" y="292.40" font-size="14.3" text-anchor="end" fill="#000" stroke="#000" stroke-width="0.3" >400</text>
<line x1="50.00" y1="487.80" x2="330.50" y2="487.80" stroke="#000" stroke-width="1.8"/>
<line x1="50.90" y1="487.80" x2="50.90" y2="491.40" stroke="#000" stroke-width="1.5"/>
<text x="50.90" y="510.60" font-size="14.3" text-anchor="middle" fill="#000" stroke="#000" stroke-width="0.3" >210</text>
<line x1="106.64" y1="487.80" x2="106.64" y2="491.40" stroke="#000" stroke-width="1.5"/>
<text x="106.64" y="510.60" font-size="14.3" text-anchor="middle" fill="#000" stroke="#000" stroke-width="0.3" >212</text>
<line x1="162.38" y1="487.80" x2="162.38" y2="491.40" stroke="#000" stroke-width="1.5"/>
<text x="162.38" y="510.60" font-size="14.3" text-anchor="middle" fill="#000" stroke="#000" stroke-width="0.3" >214</text>
<line x1="218.12" y1="487.80" x2="218.12" y2="491.40" stroke="#000" stroke-width="1.5"/>
<text x="218.12" y="510.60" font-size="14.3" text-anchor="middle" fill="#000" stroke="#000" stroke-width="0.3" >216</text>
<line x1="273.86" y1="487.80" x2="273.86" y2="491.40" stroke="#000" stroke-width="1.5"/>
<text x="273.86" y="510.60" font-size="14.3" text-anchor="middle" fill="#000" stroke="#000" stroke-width="0.3" >218</text>
<line x1="329.60" y1="487.80" x2="329.60" y2="491.40" stroke="#000" stroke-width="1.5"/>
<text x="329.60" y="510.60" font-size="14.3" text-anchor="middle" fill="#000" stroke="#000" stroke-width="0.3" >220</text>
<line x1="403.50" y1="287.10" x2="403.50" y2="492.90" stroke="#000" stroke-width="1.8"/>
<line x1="400.30" y1="489.50" x2="403.50" y2="489.50" stroke="#000" stroke-width="1.5"/>
<text x="394.20" y="494.50" font-size="14.0" text-anchor="end" fill="#000" stroke="#000" stroke-width="0.3" >0</text>
<line x1="400.30" y1="439.12" x2="403.50" y2="439.12" stroke="#000" stroke-width="1.5"/>
<text x="394.20" y="444.12" font-size="14.0" text-anchor="end" fill="#000" stroke="#000" stroke-width="0.3" >100</text>
<line x1="400.30" y1="388.75" x2="403.50" y2="388.75" stroke="#000" stroke-width="1.5"/>
<text x="394.20" y="393.75" font-size="14.0" text-anchor="end" fill="#000" stroke="#000" stroke-width="0.3" >200</text>
<line x1="400.30" y1="338.38" x2="403.50" y2="338.38" stroke="#000" stroke-width="1.5"/>
<text x="394.20" y="343.38" font-size="14.0" text-anchor="end" fill="#000" stroke="#000" stroke-width="0.3" >300</text>
<line x1="400.30" y1="288.00" x2="403.50" y2="288.00" stroke="#000" stroke-width="1.5"/>
<text x="394.20" y="293.00" font-size="14.0" text-anchor="end" fill="#000" stroke="#000" stroke-width="0.3" >400</text>
<line x1="402.60" y1="492.00" x2="671.90" y2="492.00" stroke="#000" stroke-width="1.8"/>
<line x1="403.50" y1="492.00" x2="403.50" y2="495.60" stroke="#000" stroke-width="1.5"/>
<text x="403.50" y="515.10" font-size="14.0" text-anchor="middle" fill="#000" stroke="#000" stroke-width="0.3" >250</text>
<line x1="462.94" y1="492.00" x2="462.94" y2="495.60" stroke="#000" stroke-width="1.5"/>
<text x="462.94" y="515.10" font-size="14.0" text-anchor="middle" fill="#000" stroke="#000" stroke-width="0.3" >252</text>
<line x1="522.39" y1="492.00" x2="522.39" y2="495.60" stroke="#000" stroke-width="1.5"/>
<text x="522.39" y="515.10" font-size="14.0" text-anchor="middle" fill="#000" stroke="#000" stroke-width="0.3" >254</text>
<line x1="581.83" y1="492.00" x2="581.83" y2="495.60" stroke="#000" stroke-width="1.5"/>
<text x="581.83" y="515.10" font-size="14.0" text-anchor="middle" fill="#000" stroke="#000" stroke-width="0.3" >256</text>
<line x1="641.28" y1="492.00" x2="641.28" y2="495.60" stroke="#000" stroke-width="1.5"/>
<text x="641.28" y="515.10" font-size="14.0" text-anchor="middle" fill="#000" stroke="#000" stroke-width="0.3" >258</text>
<text x="185.75" y="249.70" font-size="15.3" text-anchor="middle" fill="#000" stroke="#000" stroke-width="0.3" >Wavelength(nm)</text>
<text x="532.90" y="249.10" font-size="15.3" text-anchor="middle" fill="#000" stroke="#000" stroke-width="0.3" >Wavelength(nm)</text>
<text x="189.60" y="534.60" font-size="15.8" text-anchor="middle" fill="#000" stroke="#000" stroke-width="0.3" >Wavelength(nm)</text>
<text x="536.40" y="535.00" font-size="15.2" text-anchor="middle" fill="#000" stroke="#000" stroke-width="0.3" >Wavelength(nm)</text>
<text x="0" y="0" font-size="15.2" text-anchor="middle" stroke="#000" stroke-width="0.3" transform="translate(12.0,124.3) rotate(-90)">Intensity(a.u.)</text>
<text x="0" y="0" font-size="15.3" text-anchor="middle" stroke="#000" stroke-width="0.3" transform="translate(362.7,115.9) rotate(-90)">Intensity(a.u.)</text>
<text x="0" y="0" font-size="15.9" text-anchor="middle" stroke="#000" stroke-width="0.3" transform="translate(12.8,386.6) rotate(-90)">Intensity(a.u.)</text>
<text x="0" y="0" font-size="16.1" text-anchor="middle" stroke="#000" stroke-width="0.3" transform="translate(364.3,384.4) rotate(-90)">Intensity(a.u.)</text>
<text x="75.60" y="28.30" font-size="14.5" text-anchor="start" fill="#000" stroke="#000" stroke-width="0.3" >(a)</text>
<text x="418.20" y="27.30" font-size="14.5" text-anchor="start" fill="#000" stroke="#000" stroke-width="0.3" >(b)</text>
<text x="72.80" y="302.80" font-size="14.0" text-anchor="start" fill="#000" stroke="#000" stroke-width="0.3" >(c)</text>
<text x="422.80" y="303.20" font-size="14.0" text-anchor="start" fill="#000" stroke="#000" stroke-width="0.3" >(d)</text>
<rect x="151.50" y="11.70" width="192.90" height="54.70" fill="#fff" stroke="#5a5a5a" stroke-width="1.1"/>
<line x1="156.10" y1="22.00" x2="177.60" y2="22.00" stroke="#1262ff" stroke-width="1.5"/>
<text x="182.80" y="25.20" font-size="9.1" text-anchor="start" fill="#111" stroke="#111" stroke-width="0" >polluted apple</text>
<line x1="156.10" y1="33.40" x2="177.60" y2="33.40" stroke="#ff0d0d" stroke-width="1.5"/>
<text x="182.80" y="36.60" font-size="9.1" text-anchor="start" fill="#111" stroke="#111" stroke-width="0" >polluted apple with 80 nm silver colloid</text>
<line x1="156.10" y1="44.80" x2="177.60" y2="44.80" stroke="#ff1aff" stroke-width="1.5"/>
<text x="182.80" y="48.00" font-size="9.1" text-anchor="start" fill="#111" stroke="#111" stroke-width="0" >clean apple</text>
<line x1="156.10" y1="56.20" x2="177.60" y2="56.20" stroke="#000000" stroke-width="1.5"/>
<text x="182.80" y="59.40" font-size="9.1" text-anchor="start" fill="#111" stroke="#111" stroke-width="0" >clean apple with 80 nm silver colloid</text>
<rect x="492.90" y="1.30" width="191.40" height="55.00" fill="#fff" stroke="#777" stroke-width="1.1"/>
<line x1="497.90" y1="11.50" x2="519.00" y2="11.50" stroke="#1262ff" stroke-width="1.5"/>
<text x="524.00" y="14.70" font-size="9.1" text-anchor="start" fill="#111" stroke="#111" stroke-width="0" >polluted apple</text>
<line x1="497.90" y1="22.80" x2="519.00" y2="22.80" stroke="#ff0d0d" stroke-width="1.5"/>
<text x="524.00" y="26.00" font-size="9.1" text-anchor="start" fill="#111" stroke="#111" stroke-width="0" >polluted apple with 80 nm silver colloid</text>
<line x1="497.90" y1="34.40" x2="519.00" y2="34.40" stroke="#ff1aff" stroke-width="1.5"/>
<text x="524.00" y="37.60" font-size="9.1" text-anchor="start" fill="#111" stroke="#111" stroke-width="0" >clean apple</text>
<line x1="497.90" y1="45.70" x2="519.00" y2="45.70" stroke="#000000" stroke-width="1.5"/>
<text x="524.00" y="48.90" font-size="9.1" text-anchor="start" fill="#111" stroke="#111" stroke-width="0" >clean apple with 80 nm silver colloid</text>
<rect x="134.80" y="279.00" width="202.80" height="56.90" fill="#fff" stroke="#8a8a8a" stroke-width="1.3"/>
<line x1="140.20" y1="289.80" x2="161.90" y2="289.80" stroke="#1262ff" stroke-width="1.5"/>
<text x="167.00" y="293.00" font-size="9.45" text-anchor="start" fill="#111" stroke="#111" stroke-width="0" >polluted chives</text>
<line x1="140.20" y1="301.20" x2="161.90" y2="301.20" stroke="#ff0d0d" stroke-width="1.5"/>
<text x="167.00" y="304.40" font-size="9.45" text-anchor="start" fill="#111" stroke="#111" stroke-width="0" >polluted chives with 80 nm silver colloid</text>
<line x1="140.20" y1="313.00" x2="161.90" y2="313.00" stroke="#ff1aff" stroke-width="1.5"/>
<text x="167.00" y="316.20" font-size="9.45" text-anchor="start" fill="#111" stroke="#111" stroke-width="0" >clean chives</text>
<line x1="140.20" y1="324.70" x2="161.90" y2="324.70" stroke="#000000" stroke-width="1.5"/>
<text x="167.00" y="327.90" font-size="9.45" text-anchor="start" fill="#111" stroke="#111" stroke-width="0" >clean chives with 80 nm silver colloid</text>
<rect x="489.40" y="277.50" width="194.90" height="57.90" fill="#fff" stroke="#777" stroke-width="1.1"/>
<line x1="495.00" y1="288.90" x2="515.80" y2="288.90" stroke="#1262ff" stroke-width="1.5"/>
<text x="521.00" y="292.10" font-size="9.05" text-anchor="start" fill="#111" stroke="#111" stroke-width="0" >polluted chives</text>
<line x1="495.00" y1="300.80" x2="515.80" y2="300.80" stroke="#ff0d0d" stroke-width="1.5"/>
<text x="521.00" y="304.00" font-size="9.05" text-anchor="start" fill="#111" stroke="#111" stroke-width="0" >polluted chives with 80 nm silver colloid</text>
<line x1="495.00" y1="312.80" x2="515.80" y2="312.80" stroke="#ff1aff" stroke-width="1.5"/>
<text x="521.00" y="316.00" font-size="9.05" text-anchor="start" fill="#111" stroke="#111" stroke-width="0" >clean chives</text>
<line x1="495.00" y1="324.80" x2="515.80" y2="324.80" stroke="#000000" stroke-width="1.5"/>
<text x="521.00" y="328.00" font-size="9.05" text-anchor="start" fill="#111" stroke="#111" stroke-width="0" >clean chives with 80 nm silver colloid</text>
<text x="77.60" y="64.00" font-size="9.3" text-anchor="start" fill="#111" stroke="#111" stroke-width="0" >P 213.62 nm</text>
<line x1="122.80" y1="68.40" x2="143.20" y2="76.90" stroke="#222" stroke-width="1.1"/>
<text x="204.30" y="94.80" font-size="9.3" text-anchor="start" fill="#111" stroke="#111" stroke-width="0" >P 214.91 nm</text>
<line x1="185.10" y1="101.10" x2="201.60" y2="94.10" stroke="#222" stroke-width="1.1"/>
<text x="535.90" y="70.30" font-size="9.3" text-anchor="start" fill="#111" stroke="#111" stroke-width="0" >P 253.56 nm</text>
<line x1="508.10" y1="75.40" x2="529.80" y2="68.20" stroke="#222" stroke-width="1.1"/>
<text x="573.30" y="131.40" font-size="9.3" text-anchor="start" fill="#111" stroke="#111" stroke-width="0" >P 255.33 nm</text>
<line x1="557.70" y1="148.50" x2="571.10" y2="136.00" stroke="#222" stroke-width="1.1"/>
<text x="75.90" y="342.90" font-size="9.3" text-anchor="start" fill="#111" stroke="#111" stroke-width="0" >P 213.62 nm</text>
<line x1="123.10" y1="347.30" x2="144.20" y2="355.80" stroke="#222" stroke-width="1.1"/>
<text x="207.50" y="374.60" font-size="9.3" text-anchor="start" fill="#111" stroke="#111" stroke-width="0" >P 214.91 nm</text>
<line x1="187.50" y1="381.90" x2="205.00" y2="374.20" stroke="#222" stroke-width="1.1"/>
<text x="536.80" y="349.20" font-size="9.3" text-anchor="start" fill="#111" stroke="#111" stroke-width="0" >P 253.56 nm</text>
<line x1="512.90" y1="357.60" x2="534.50" y2="350.00" stroke="#222" stroke-width="1.1"/>
<text x="579.50" y="383.60" font-size="9.3" text-anchor="start" fill="#111" stroke="#111" stroke-width="0" >P 255.33 nm</text>
<line x1="565.50" y1="398.50" x2="578.70" y2="386.40" stroke="#222" stroke-width="1.1"/>
</svg></body></html>
